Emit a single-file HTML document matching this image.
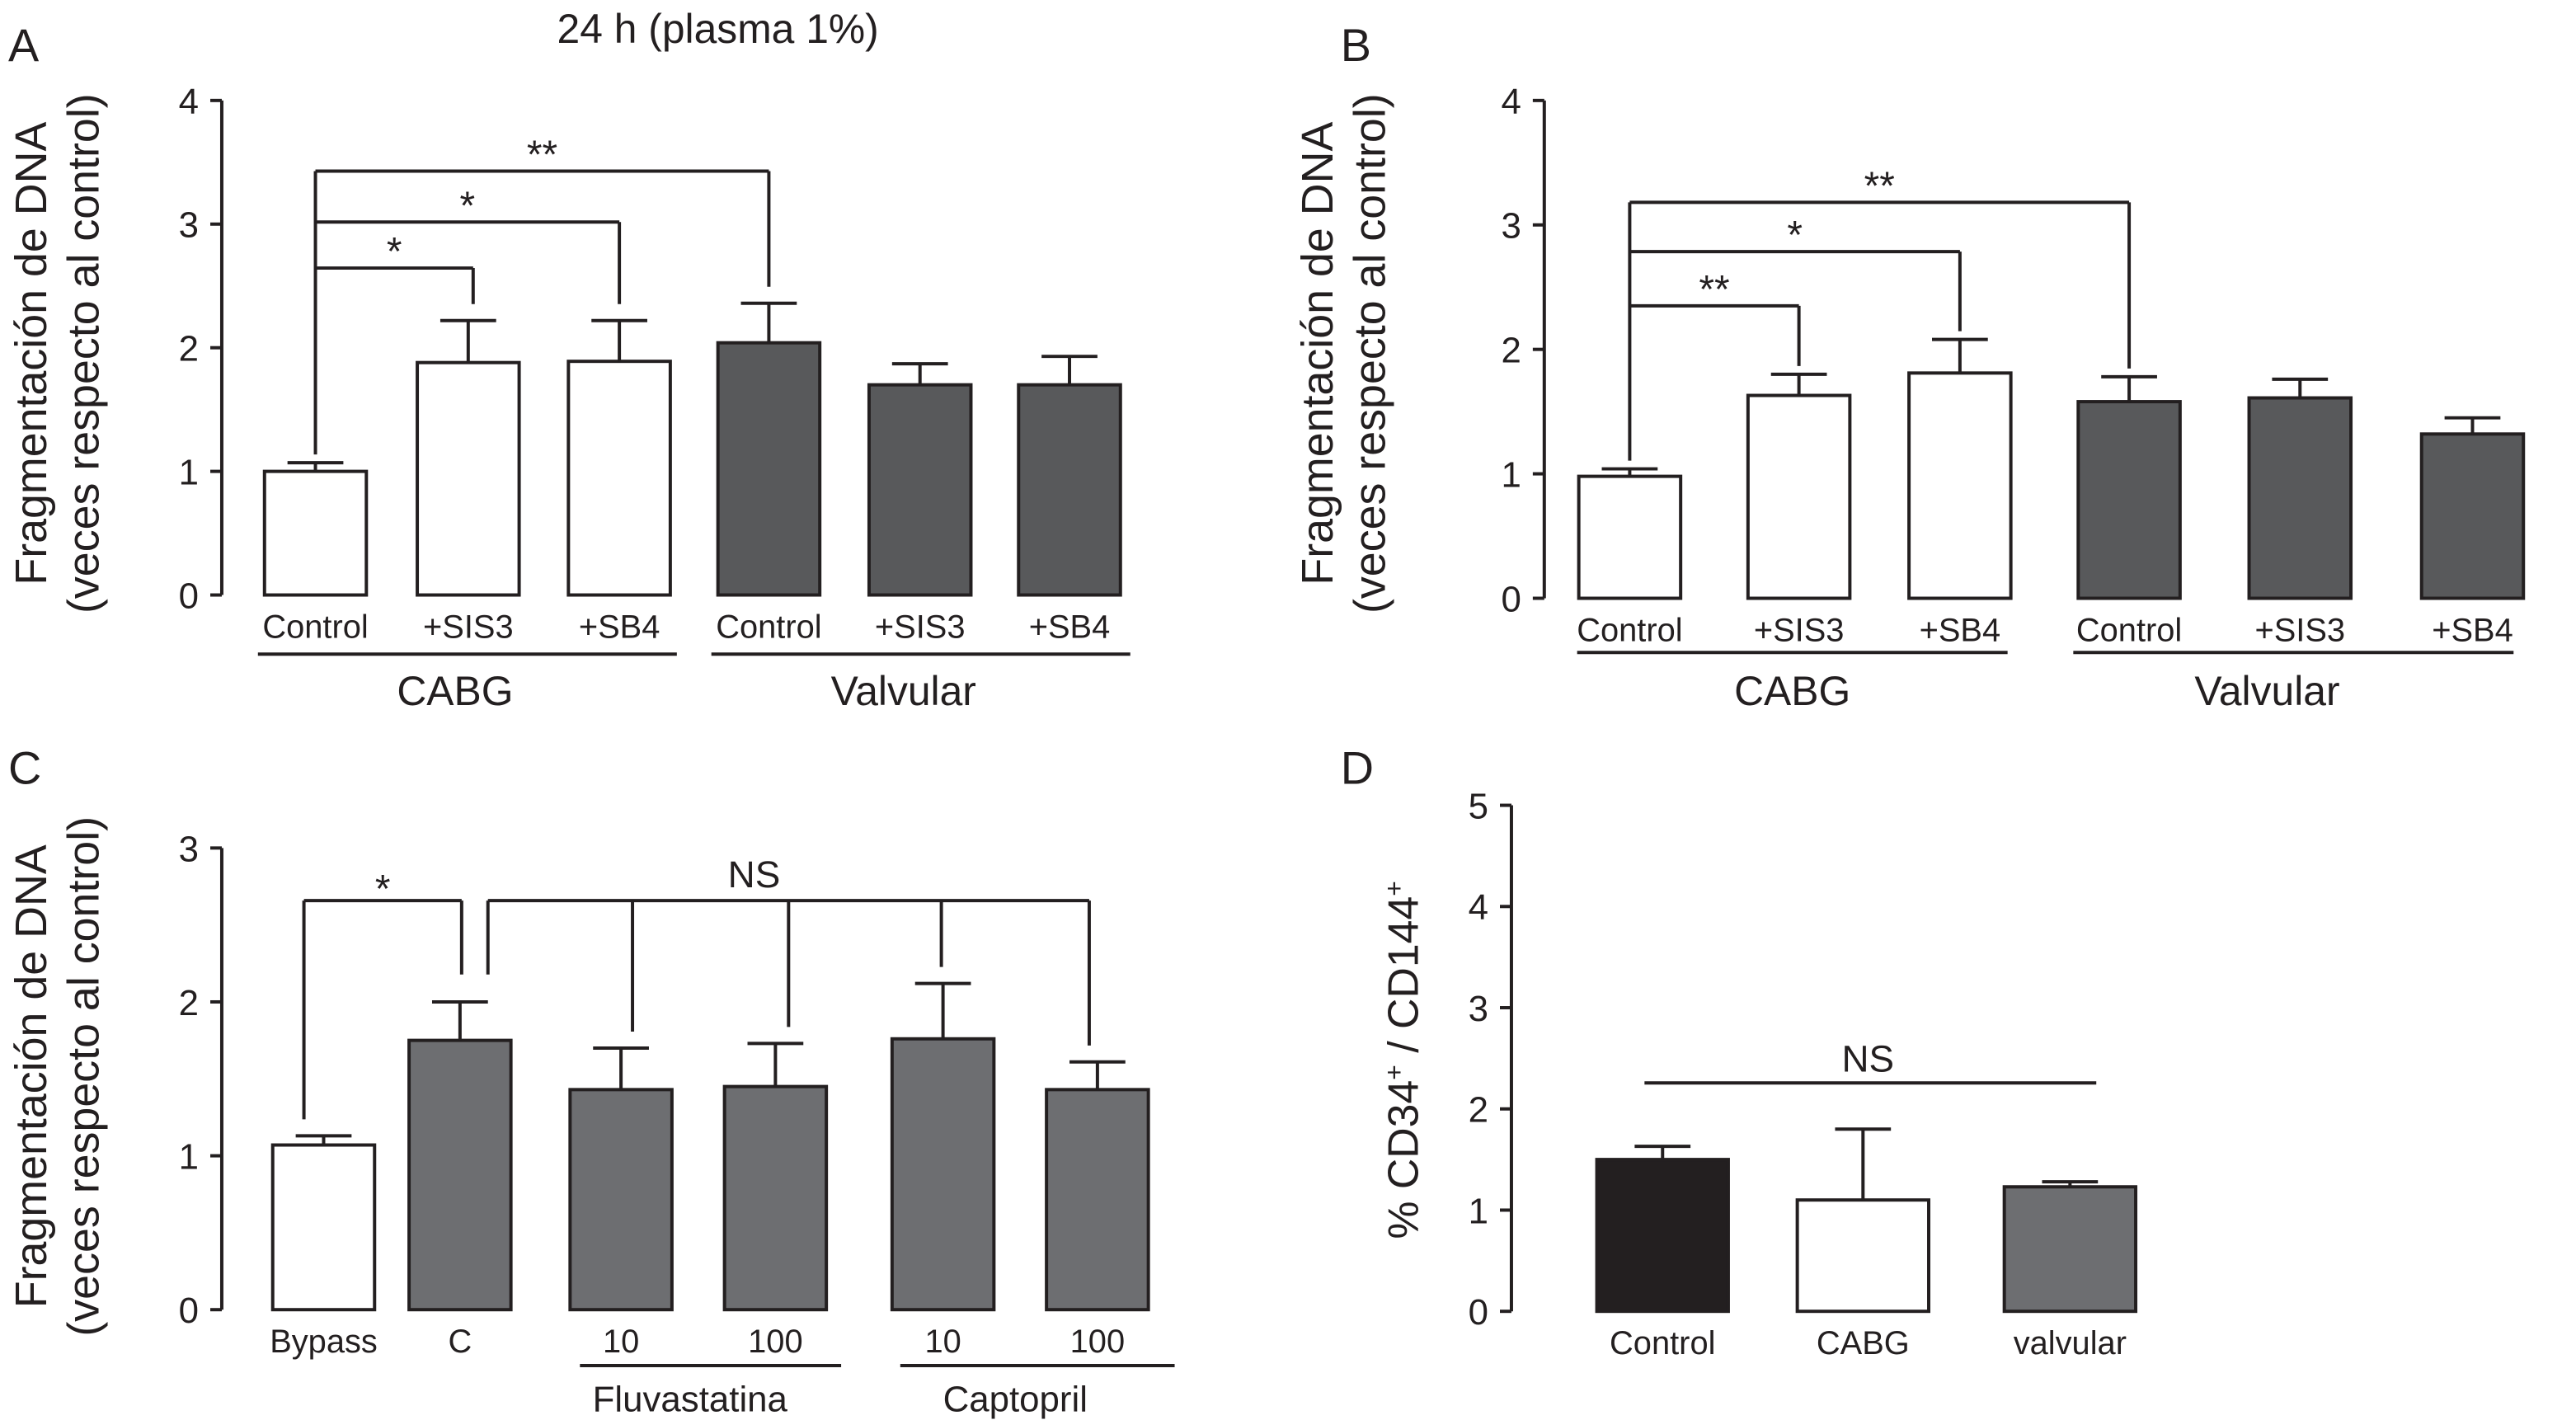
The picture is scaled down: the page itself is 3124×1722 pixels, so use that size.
<!DOCTYPE html>
<html><head><meta charset="utf-8"><style>
html,body{margin:0;padding:0;background:#fff;}
svg{display:block;}
text{font-family:"Liberation Sans",sans-serif;fill:#231f20;}
</style></head><body>
<svg id="fig" width="3124" height="1722" viewBox="0 0 1568 864" xmlns="http://www.w3.org/2000/svg">
<g id="root" stroke="#231f20" fill="none" stroke-width="2"></g>
</svg>
<script>
// Panel A data
const aCats = ["Control","+SIS3","+SB4","Control","+SIS3","+SB4"];
const aVals = [1.0,1.88,1.89,2.04,1.70,1.70];
const aErr = [1.07,2.22,2.22,2.36,1.87,1.93];
const aTicks = [0,1,2,3,4];
// Panel B data
const bCats = ["Control","+SIS3","+SB4","Control","+SIS3","+SB4"];
const bVals = [0.98,1.63,1.81,1.58,1.61,1.32];
const bErr = [1.04,1.80,2.08,1.78,1.76,1.45];
const bTicks = [0,1,2,3,4];
// Panel C data
const cCats = ["Bypass","C","10","100","10","100"];
const cVals = [1.07,1.75,1.43,1.45,1.76,1.43];
const cErr = [1.13,2.0,1.70,1.73,2.12,1.61];
const cTicks = [0,1,2,3];
// Panel D data
const dCats = ["Control","CABG","valvular"];
const dVals = [1.50,1.10,1.23];
const dErr = [1.63,1.80,1.28];
const dTicks = [0,1,2,3,4,5];

const NS="http://www.w3.org/2000/svg";
const root=document.getElementById('root');
function mk(tag,attrs,parent){const e=document.createElementNS(NS,tag);for(const k in attrs)e.setAttribute(k,attrs[k]);(parent||root).appendChild(e);return e;}
function txt(s,x,y,size,anchor,parent,rot){const t=mk('text',{x:x,y:y,'font-size':size,'text-anchor':anchor||'middle',stroke:'none',fill:'#231f20'},parent);if(rot)t.setAttribute('transform','rotate(-90 '+x+' '+y+')');t.textContent=s;return t;}
function line(x1,y1,x2,y2,p){return mk('line',{x1:x1,y1:y1,x2:x2,y2:y2},p);}

function panel(o){
  const g=mk('g',{});
  
  
  const ys=v=>o.y0-(v/o.max)*(o.y0-o.ytop);
  const ax=line(o.ax,o.ytop,o.ax,o.y0,g);
  
  
  o.ticks.forEach(t=>{
    const tk=line(o.ax-7,ys(t),o.ax,ys(t),g);
    
    
    const l=txt(String(t),o.ax-14,ys(t)+8,22,'end',g);
    
    
  });
  o.vals.forEach((v,i)=>{
    const cx=o.cx[i];
    const r=mk('rect',{x:cx-o.bw/2,y:ys(v),width:o.bw,height:o.y0-ys(v),fill:o.fills[i],stroke:'#231f20','stroke-width':2},g);
    
    
    const e1=line(cx,ys(v),cx,ys(o.err[i]),g);
    
    
    line(cx-17,ys(o.err[i]),cx+17,ys(o.err[i]),g);
    const l=txt(o.cats[i],cx,o.y0+26,20,'middle',g);
    
    
  });
  return {g,ys};
}
const W='#fff', DK='#58595b', MD='#6d6e71', BK='#231f20';

// Panel A
const A=panel({name:'panel-a',ax:135,y0:362,ytop:61,max:4,ticks:aTicks,vals:aVals,err:aErr,cats:aCats,bw:62,cx:[192,285,377,468,560,651],fills:[W,W,W,DK,DK,DK]});
(function(){const g=A.g,ys=A.ys;
 line(192,ys(aErr[0])-5,192,104,g);
 [[104,468,aErr[3],'**'],[135,377,aErr[2],'*'],[163,288,aErr[1],'*']].forEach(b=>{line(192,b[0],b[1],b[0],g);line(b[1],b[0],b[1],ys(b[2])-10,g);txt(b[3],(192+b[1])/2,b[0]-2,24,'middle',g);});
 line(157,398,412,398,g);line(433,398,688,398,g);
 txt('CABG',277,429,25,'middle',g);txt('Valvular',550,429,25,'middle',g);
 txt('24 h (plasma 1%)',437,26,25,'middle',g);txt('A',5,37,28,'start',g);
 txt('Fragmentación de DNA',28,215,27,'middle',g,true);txt('(veces respecto al control)',60,215,27,'middle',g,true);
})();

// Panel B
const B=panel({name:'panel-b',ax:940,y0:364,ytop:61,max:4,ticks:bTicks,vals:bVals,err:bErr,cats:bCats,bw:62,cx:[992,1095,1193,1296,1400,1505],fills:[W,W,W,DK,DK,DK]});
(function(){const g=B.g,ys=B.ys;
 line(992,ys(bErr[0])-5,992,123,g);
 [[123,1296,bErr[3],'**'],[153,1193,bErr[2],'*'],[186,1095,bErr[1],'**']].forEach(b=>{line(992,b[0],b[1],b[0],g);line(b[1],b[0],b[1],ys(b[2])-5,g);txt(b[3],(992+b[1])/2,b[0]-2,24,'middle',g);});
 line(960,397,1222,397,g);line(1262,397,1530,397,g);
 txt('CABG',1091,429,25,'middle',g);txt('Valvular',1380,429,25,'middle',g);
 txt('B',816,37,28,'start',g);
 txt('Fragmentación de DNA',811,215,27,'middle',g,true);txt('(veces respecto al control)',843,215,27,'middle',g,true);
})();

// Panel C
const C=panel({name:'panel-c',ax:135,y0:797,ytop:516,max:3,ticks:cTicks,vals:cVals,err:cErr,cats:cCats,bw:62,cx:[197,280,378,472,574,668],fills:[W,MD,MD,MD,MD,MD]});
(function(){const g=C.g,ys=C.ys;
 line(185,ys(cErr[0])-10,185,548,g);line(185,548,281,548,g);line(281,548,281,593,g);txt('*',233,549,24,'middle',g);
 line(297,548,663,548,g);line(297,548,297,593,g);
 [[385,cErr[2]],[480,cErr[3]],[573,cErr[4]],[663,cErr[5]]].forEach(b=>line(b[0],548,b[0],ys(b[1])-10,g));
 txt('NS',459,540,23,'middle',g);
 line(353,831,512,831,g);line(548,831,715,831,g);
 txt('Fluvastatina',420,859,22,'middle',g);txt('Captopril',618,859,22,'middle',g);
 txt('C',5,477,28,'start',g);
 txt('Fragmentación de DNA',28,655,27,'middle',g,true);txt('(veces respecto al control)',60,655,27,'middle',g,true);
})();

// Panel D
const D=panel({name:'panel-d',ax:920,y0:798,ytop:490,max:5,ticks:dTicks,vals:dVals,err:dErr,cats:dCats,bw:80,cx:[1012,1134,1260],fills:[BK,W,MD]});
(function(){const g=D.g;
 line(1001,659,1276,659,g);txt('NS',1137,652,23,'middle',g);
 txt('D',816,477,28,'start',g);
 const t=txt('',863,645,26,'middle',g,true);
 t.innerHTML='% CD34<tspan dy="-9" font-size="16">+</tspan><tspan dy="9"> / CD144</tspan><tspan dy="-9" font-size="16">+</tspan>';
})();
</script>
</body></html>
